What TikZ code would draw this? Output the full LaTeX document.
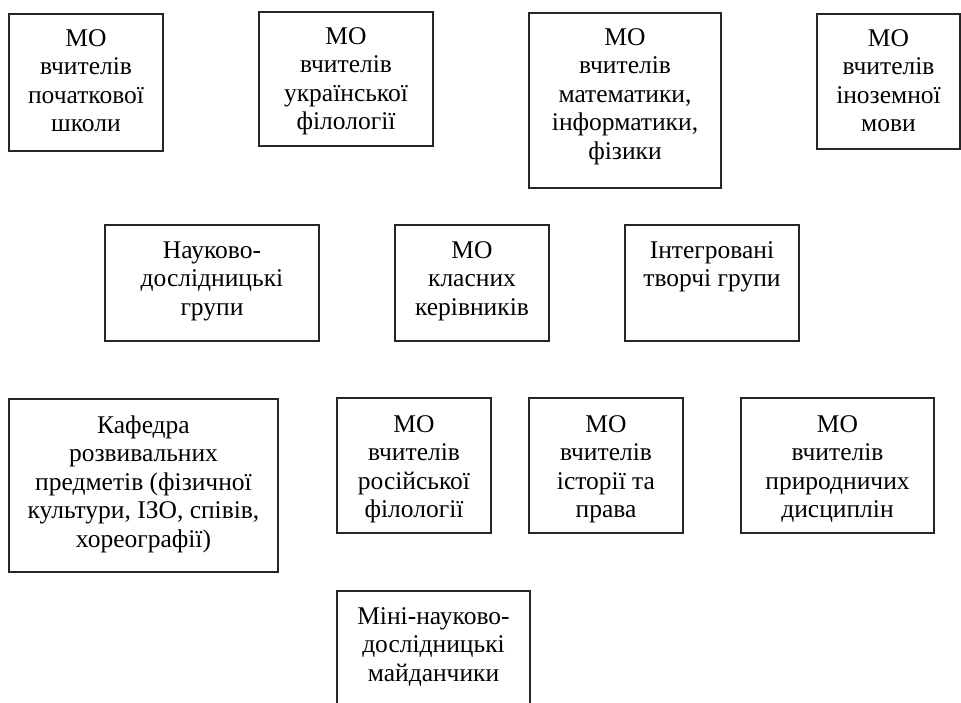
\documentclass[tikz,border=0pt]{standalone}
\usepackage{fontspec}
\setmainfont{Liberation Serif}
\begin{document}
\begin{tikzpicture}[x=1pt,y=-1pt,
  box/.style={draw=black!85, line width=1.3pt, anchor=north west, inner sep=0pt, outer sep=0pt},
  txt/.style={anchor=north, align=center, inner sep=0pt, font=\fontsize{25.5}{28.5}\selectfont}]
\useasboundingbox (0,0) rectangle (961,702);
\clip (0,0) rectangle (961,702);
\newcommand\mybox[5]{\node[box, minimum width={#4-#2}, minimum height={#5-#3}] (#1) at (#2,#3) {};}
% row 1
\mybox{b1}{9}{14}{163}{151}
\mybox{b2}{259}{12}{433}{146}
\mybox{b3}{529}{13}{721}{188}
\mybox{b4}{817}{14}{960}{149}
% row 2
\mybox{b5}{105}{225}{319}{341}
\mybox{b6}{395}{225}{549}{341}
\mybox{b7}{625}{225}{799}{341}
% row 3
\mybox{b8}{9}{399}{278}{572}
\mybox{b9}{337}{398}{491}{533}
\mybox{b10}{529}{398}{683}{533}
\mybox{b11}{741}{398}{934}{533}
% row 4
\mybox{b12}{337}{591}{530}{730}
% texts
\node[txt] (t1) at ([yshift=-12pt]b1.north) {\strut МО\\вчителів\\початкової\\школи};
\node[txt] (t2) at ([yshift=-12pt]b2.north) {\strut МО\\вчителів\\української\\філології};
\node[txt] (t3) at ([yshift=-12pt]b3.north) {\strut МО\\вчителів\\математики,\\інформатики,\\фізики};
\node[txt] (t4) at ([yshift=-12pt]b4.north) {\strut МО\\вчителів\\іноземної\\мови};
\node[txt] (t5) at ([yshift=-13pt]b5.north) {\strut Науково-\\дослідницькі\\групи};
\node[txt] (t6) at ([yshift=-13pt]b6.north) {\strut МО\\класних\\керівників};
\node[txt] (t7) at ([yshift=-13pt]b7.north) {\strut Інтегровані\\творчі групи};
\node[txt] (t8) at ([yshift=-14pt]b8.north) {\strut Кафедра\\розвивальних\\предметів (фізичної\\культури, ІЗО, співів,\\хореографії)};
\node[txt] (t9) at ([yshift=-14pt]b9.north) {\strut МО\\вчителів\\російської\\філології};
\node[txt] (t10) at ([yshift=-14pt]b10.north) {\strut МО\\вчителів\\історії та\\права};
\node[txt] (t11) at ([yshift=-14pt]b11.north) {\strut МО\\вчителів\\природничих\\дисциплін};
\node[txt] (t12) at ([yshift=-13pt]b12.north) {\strut Міні-науково-\\дослідницькі\\майданчики};
\end{tikzpicture}
\end{document}
